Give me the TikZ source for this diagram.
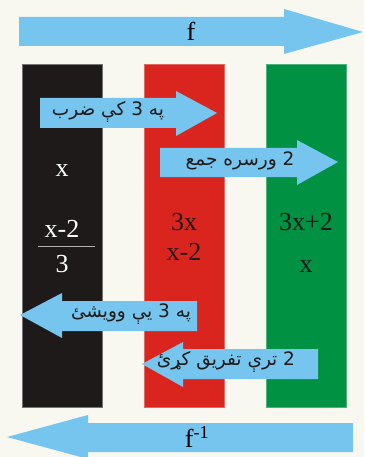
\documentclass[tikz,border=0pt]{standalone}
\usepackage{fontspec}
\setmainfont{Liberation Serif}
\newfontfamily\arabicfont[Script=Arabic]{DejaVu Sans}
\TeXXeTstate=1
\definecolor{bgc}{HTML}{F8F8F0}
\definecolor{arrowblue}{HTML}{75C5EE}
\definecolor{colblack}{HTML}{1E1A19}
\definecolor{colred}{HTML}{DA251E}
\definecolor{colgreen}{HTML}{009142}
\tikzset{
  bluearrow/.style={fill=arrowblue, draw=none},
  column/.style={line width=0.8pt},
  mathtxt/.style={font=\fontsize{26}{30}\selectfont, inner sep=0pt},
  pashto/.style={font=\arabicfont\fontsize{18.5}{22}\selectfont, text=colblack, inner sep=0pt},
}
\begin{document}
\begin{tikzpicture}[x=1pt,y=-1pt]
\useasboundingbox[fill=bgc] (0,0) rectangle (364,457);
% columns
\fill[column, fill=colblack, draw=black!55] (22,64) rectangle (102,407);
\fill[column, fill=colred, draw=colred!70!white] (144,64) rectangle (224,407);
\fill[column, fill=colgreen, draw=colgreen!70!white] (266,64) rectangle (346,407);
% top arrow f
\fill[bluearrow] (19,17) -- (284,17) -- (284,9) -- (363,32) -- (284,54) -- (284,46) -- (19,46) -- cycle;
\node[mathtxt] (f) at (191,31) {f};
% bottom arrow f^-1
\fill[bluearrow] (353,423) -- (88,423) -- (88,415) -- (7,437) -- (88,459) -- (88,452) -- (353,452) -- cycle;
\node[mathtxt] (finv) at (197,437) {f\textsuperscript{-1}};
% arrow 1
\fill[bluearrow] (40,98) -- (176,98) -- (176,91) -- (217,113) -- (176,136) -- (176,128) -- (40,128) -- cycle;
\node[pashto] (t1) at (108,112) {\beginR په 3 کې ضرب\endR};
% arrow 2
\fill[bluearrow] (160,148) -- (297,148) -- (297,140) -- (338,162) -- (297,185) -- (297,177) -- (160,177) -- cycle;
\node[pashto] (t2) at (240,161) {\beginR 2 ورسره جمع\endR};
% arrow 3
\fill[bluearrow] (197,301) -- (62,301) -- (62,293) -- (20,315) -- (62,338) -- (62,331) -- (197,331) -- cycle;
\node[pashto] (t3) at (131,314) {\beginR په 3 يې وويشئ\endR};
% arrow 4
\fill[bluearrow] (318,349) -- (183,349) -- (183,342) -- (142,364) -- (183,387) -- (183,379) -- (318,379) -- cycle;
\node[pashto] (t4) at (226,362) {\beginR 2 ترې تفريق کړئ\endR};
% black column text
\node[mathtxt, text=white] (bx) at (62,171) {x};
\node[mathtxt, text=white] (bnum) at (62,229) {x-2};
\draw[black!30!white, line width=1pt] (38,246) -- (95,246);
\node[mathtxt, text=white] (bden) at (62,264) {3};
% red column text
\node[mathtxt, text=colblack] (r1) at (184,222) {3x};
\node[mathtxt, text=colblack] (r2) at (184,252) {x-2};
% green column text
\node[mathtxt, text=colblack] (g1) at (306,222) {3x+2};
\node[mathtxt, text=colblack] (g2) at (306,267) {x};
\end{tikzpicture}
\end{document}
